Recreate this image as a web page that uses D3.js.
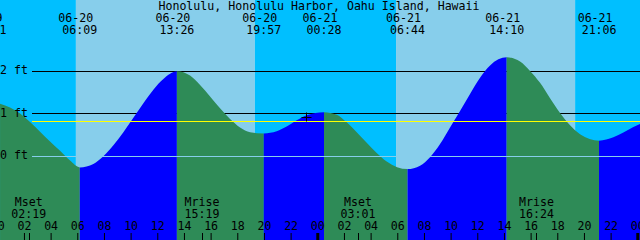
<!DOCTYPE html>
<html>
<head>
<meta charset="utf-8">
<script src="https://cdn.jsdelivr.net/npm/d3@7"></script>
<style>
  body { margin: 0; background: #fff; }
  svg { display: block; }
  text { font-family: "DejaVu Sans Mono", monospace; font-size: 11.6px; fill: #000; }
</style>
</head>
<body>
<div id="chart"></div>
<script>
// hours are counted from 06-20 00:00 local time
const title = "Honolulu, Honolulu Harbor, Oahu Island, Hawaii";
const startHour = 10 / 60;
const spanHours = 48;

// sky: hours where the background switches (night -> day -> night ...)
const sunrise = [5.86, 29.87];
const sunset = [19.28, 43.30];

// tide extremes shown along the top
const eventDates = ["06-19", "06-20", "06-20", "06-20", "06-21", "06-21", "06-21", "06-21"];
const eventTimes = ["23:21", "06:09", "13:26", "19:57", "00:28", "06:44", "14:10", "21:06"];
const eventKinds = ["high", "low", "high", "low", "high", "low", "high", "low"];

// water level (hours, feet)
const levelHours = [0.17, 0.92, 1.67, 2.42, 3.17, 3.92, 4.67, 5.42, 6.15,
  7.17, 7.92, 8.67, 9.42, 10.17, 10.92, 11.67, 12.42, 13.43,
  14.42, 15.17, 15.92, 16.67, 17.42, 18.17, 18.92, 19.95,
  20.92, 21.67, 22.42, 23.17, 24.47,
  25.42, 26.17, 26.92, 27.67, 28.42, 29.17, 30.73,
  31.67, 32.42, 33.17, 33.92, 34.67, 35.42, 36.17, 36.92, 38.17,
  39.17, 39.92, 40.67, 41.42, 42.17, 42.92, 43.67, 45.10,
  46.17, 46.92, 47.67, 48.17];
const levels = [1.22, 1.13, 0.99, 0.79, 0.56, 0.33, 0.11, -0.12, -0.28,
  -0.20, -0.02, 0.24, 0.55, 0.89, 1.23, 1.55, 1.80, 1.98,
  1.88, 1.66, 1.39, 1.11, 0.86, 0.66, 0.55, 0.52,
  0.57, 0.68, 0.83, 0.95, 1.02,
  0.96, 0.78, 0.55, 0.30, 0.06, -0.14, -0.32,
  -0.24, -0.04, 0.27, 0.66, 1.05, 1.45, 1.83, 2.12, 2.31,
  2.21, 1.99, 1.71, 1.35, 1.00, 0.71, 0.50, 0.35,
  0.43, 0.54, 0.67, 0.74];

const gridLevels = [0, 1, 2];
const meanLevel = 0.82;
const markHour = 23.15, markLevel = 0.9;

// moon rise/set along the bottom
const moonLabels = ["Mset", "Mrise", "Mset", "Mrise"];
const moonDates = ["06-20", "06-20", "06-21", "06-21"];
const moonTimes = ["02:19", "15:19", "03:01", "16:24"];

const hourTicks = d3.range(0, 49, 2);

const dayColor = "#87ceeb", nightColor = "#00bfff";
const floodColor = "#0000ff", ebbColor = "#2e8b57";

const width = 640, height = 240;

function toHour(date, time) {
  const day = +date.split("-")[1] - 20;
  const [h, m] = time.split(":").map(Number);
  return day * 24 + h + m / 60;
}

const x = d3.scaleLinear().domain([startHour, startHour + spanHours]).range([0, width]);
const y = d3.scaleLinear().domain([0, 2]).range([155.5, 70.5]);

const svg = d3.select("#chart").append("svg")
  .attr("width", width)
  .attr("height", height);

// sky
const skyEdges = [startHour, sunrise[0], sunset[0], sunrise[1], sunset[1], startHour + spanHours];
svg.append("g").selectAll("rect")
  .data(d3.pairs(skyEdges))
  .join("rect")
  .attr("x", d => x(d[0]))
  .attr("y", 0)
  .attr("width", d => x(d[1]) - x(d[0]))
  .attr("height", height)
  .attr("fill", (d, i) => i % 2 ? dayColor : nightColor);

// black level lines sit behind the water
svg.append("g").selectAll("line")
  .data(gridLevels.filter(d => d !== 0))
  .join("line")
  .attr("x1", 32).attr("x2", width)
  .attr("y1", d => Math.round(y(d)) + 0.5)
  .attr("y2", d => Math.round(y(d)) + 0.5)
  .attr("stroke", "#000");

// water, coloured by rising (flood) or falling (ebb)
const pts = levelHours.map((h, i) => [h, levels[i]]);
const area = d3.area()
  .x(d => x(d[0]))
  .y0(height)
  .y1(d => y(d[1]))
  .curve(d3.curveMonotoneX);

const eventHours = eventDates.map((d, i) => toHour(d, eventTimes[i]));
const segEdges = [startHour, ...eventHours.slice(1), startHour + spanHours];
const segs = d3.pairs(segEdges).map((d, i) => ({
  x0: x(d[0]), x1: x(d[1]), kind: eventKinds[i]
}));

const defs = svg.append("defs");
segs.forEach((s, i) => {
  defs.append("clipPath").attr("id", "seg" + i)
    .append("rect")
    .attr("x", s.x0).attr("y", 0)
    .attr("width", s.x1 - s.x0).attr("height", height);
});

svg.append("g").selectAll("path")
  .data(segs)
  .join("path")
  .attr("d", area(pts))
  .attr("clip-path", (d, i) => `url(#seg${i})`)
  .attr("fill", d => d.kind === "high" ? ebbColor : floodColor);

// datum and mean level lines on top of the water
svg.append("line")
  .attr("x1", 32).attr("x2", width)
  .attr("y1", Math.round(y(0)) + 0.5).attr("y2", Math.round(y(0)) + 0.5)
  .attr("stroke", dayColor);

svg.append("line")
  .attr("x1", 32).attr("x2", width)
  .attr("y1", Math.round(y(meanLevel)) + 0.5).attr("y2", Math.round(y(meanLevel)) + 0.5)
  .attr("stroke", "#ffff00");

// level labels
svg.append("g").selectAll("text")
  .data(gridLevels)
  .join("text")
  .attr("x", 0)
  .attr("y", d => y(d) + 3.5)
  .text(d => `${d} ft`);

// current time mark
const mx = Math.round(x(markHour)) + 0.5, my = Math.round(y(markLevel)) + 0.5;
svg.append("line")
  .attr("x1", mx).attr("x2", mx).attr("y1", my - 5).attr("y2", my + 4)
  .attr("stroke", "#000");
svg.append("line")
  .attr("x1", mx - 5).attr("x2", mx + 5).attr("y1", my).attr("y2", my)
  .attr("stroke", "#000");

// title and tide event labels
svg.append("text")
  .attr("x", 319).attr("y", 10)
  .attr("text-anchor", "middle")
  .text(title);

const eventLabels = svg.append("g").selectAll("g")
  .data(eventHours)
  .join("g")
  .attr("transform", d => `translate(${x(d)},0)`);
eventLabels.append("text")
  .attr("x", -4).attr("y", 21.5)
  .attr("text-anchor", "middle")
  .text((d, i) => eventDates[i]);
eventLabels.append("text")
  .attr("y", 33.5)
  .attr("text-anchor", "middle")
  .text((d, i) => eventTimes[i]);

// moon rise/set
const moonHours = moonDates.map((d, i) => toHour(d, moonTimes[i]));
const moon = svg.append("g").selectAll("g")
  .data(moonHours)
  .join("g")
  .attr("transform", d => `translate(${x(d)},0)`);
moon.append("text")
  .attr("y", 206)
  .attr("text-anchor", "middle")
  .text((d, i) => moonLabels[i]);
moon.append("text")
  .attr("y", 217.5)
  .attr("text-anchor", "middle")
  .text((d, i) => moonTimes[i]);
moon.append("rect")
  .attr("x", d => Math.round(x(d)) - x(d))
  .attr("width", 1)
  .attr("y", 233)
  .attr("height", 7)
  .attr("fill", "#000");

// hour axis along the bottom
const hours = svg.append("g").selectAll("g")
  .data(hourTicks)
  .join("g")
  .attr("transform", d => `translate(${x(d)},0)`);
hours.append("text")
  .attr("y", 229.5)
  .attr("text-anchor", "middle")
  .text(d => d3.format("02")(d % 24));
hours.append("rect")
  .attr("x", d => d % 24 === 0 ? -1.5 : -0.5)
  .attr("width", d => d % 24 === 0 ? 3 : 1)
  .attr("y", 233)
  .attr("height", 7)
  .attr("fill", "#000");
</script>
</body>
</html>
